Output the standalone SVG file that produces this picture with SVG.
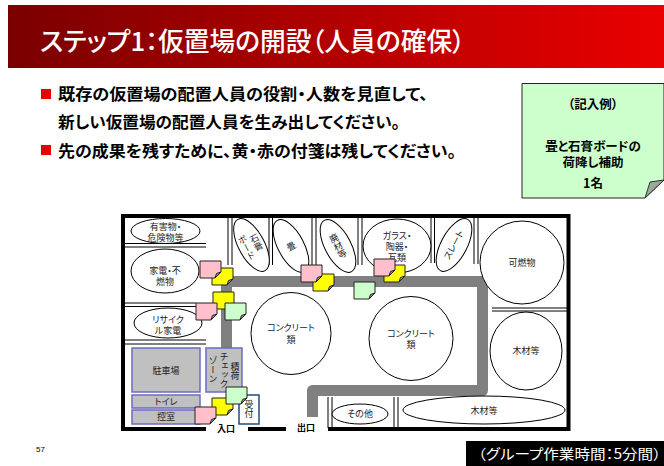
<svg xmlns="http://www.w3.org/2000/svg" width="664" height="466" viewBox="0 0 664 466">
<style>
text{font-family:"Noto Sans CJK JP","Liberation Sans",sans-serif;font-feature-settings:"palt";fill:#000}
.l{font-size:9px;text-anchor:middle;fill:#222}
.b{font-size:16px;font-weight:700}
.m{font-size:12.500px;font-weight:700;text-anchor:middle}
.e{fill:#fff;stroke:#000;stroke-width:1}
.wall{fill:none;stroke:#000;stroke-width:4}
.dbl{fill:none;stroke:#000;stroke-width:1}
.road{fill:none;stroke:#808080;stroke-width:11}
.blk{fill:#c0c0c0;stroke:#6c6cc0;stroke-width:1.500}
.v{writing-mode:vertical-rl;font-size:9px;text-anchor:middle;fill:#222}
.pink{fill:#ffc0cb}.yel{fill:#ffff00}.grn{fill:#ccffcc}
.sq{fill:#e60000}
</style>
<defs>
<linearGradient id="hd" x1="0" x2="1" y1="0" y2="0"><stop offset="0" stop-color="#7a0000"/><stop offset="1" stop-color="#ea0000"/></linearGradient>
<g id="note" stroke="#222" stroke-width="1"><path d="M0,0H21V11L15,17H0Z"/><path d="M15,17L16.500,12.500L21,11Z" fill="#999"/></g>
</defs>
<rect width="664" height="466" fill="#fff"/>
<g id="header">
<rect x="8" y="5" width="656" height="63" fill="url(#hd)"/>
<text x="40" y="51" font-size="26" font-weight="500" style="fill:#fff" textLength="425" lengthAdjust="spacingAndGlyphs">ステップ1：仮置場の開設（人員の確保）</text>
</g>
<g id="bullets">
<rect class="sq" x="41" y="89" width="10" height="10"/>
<text class="b" x="58" y="100" textLength="370" lengthAdjust="spacingAndGlyphs">既存の仮置場の配置人員の役割・人数を見直して、</text>
<text class="b" x="58" y="128" textLength="342" lengthAdjust="spacingAndGlyphs">新しい仮置場の配置人員を生み出してください。</text>
<rect class="sq" x="41" y="145" width="10" height="10"/>
<text class="b" x="58" y="157" textLength="398" lengthAdjust="spacingAndGlyphs">先の成果を残すために、黄・赤の付箋は残してください。</text>
</g>
<g id="example-note">
<path d="M522,83.500H664V180L645,198H522Z" fill="#ccffcc" stroke="#222" stroke-width="1"/>
<path d="M645,198L650,182L664,180Z" fill="#99aa99" stroke="#333" stroke-width="1"/>
<text class="m" x="593" y="109">（記入例）</text>
<text class="m" x="593" y="151">畳と石膏ボードの</text>
<text class="m" x="593" y="167">荷降し補助</text>
<text class="m" x="593" y="188">1名</text>
</g>
<g id="connectors">
<path class="road" d="M226.500,350V281.500H482.500V385"/>
<path class="road" stroke-linejoin="round" d="M482.500,385V390.500H312.500V417"/>
</g>
<g id="walls">
<path class="wall" d="M206,429H123V216H568.500V429H328M248,429H286"/>
<path class="dbl" d="M125,243.500H206M125,247H206M125,303H196M125,306.500H196M125,340H206M125,344H206M492,308H568M492,311H568M228,218V265M232,218V265M269,218V265M272.500,218V265M312,218V265M316,218V265M358,218V265M362,218V265M431,218V263M434.500,218V263M474,218V264M478,218V264M328,397V428M332,397V428M394,397V428M398,397V428"/>
</g>
<g id="n-hazard"><ellipse class="e" cx="165.500" cy="231" rx="34.500" ry="12.500"/><text class="l" x="165.500" y="230">有害物・</text><text class="l" x="165.500" y="241">危険物等</text></g>
<g id="n-appliance"><ellipse class="e" cx="165" cy="271" rx="34" ry="22"/><text class="l" x="165" y="274">家電・不</text><text class="l" x="165" y="285">燃物</text></g>
<g id="n-recycle"><ellipse class="e" cx="168" cy="323" rx="34" ry="15"/><text class="l" x="168" y="323">リサイク</text><text class="l" x="168" y="334">ル家電</text></g>
<g id="n-gypsum" transform="rotate(-28 251.500 245)"><ellipse class="e" cx="251.500" cy="245" rx="13" ry="29"/><text class="v" x="257" y="245">石膏</text><text class="v" x="246" y="245">ボード</text></g>
<g id="n-tatami" transform="rotate(-28 291 246)"><ellipse class="e" cx="291" cy="246" rx="13" ry="29"/><text class="v" x="291" y="246">畳</text></g>
<g id="n-waste" transform="rotate(-28 338 246)"><ellipse class="e" cx="338" cy="246" rx="13" ry="29"/><text class="v" x="338" y="246">廃材等</text></g>
<g id="n-glass"><ellipse class="e" cx="397" cy="246" rx="34" ry="27"/><text class="l" x="397" y="239">ガラス・</text><text class="l" x="397" y="250">陶器・</text><text class="l" x="397" y="261">瓦類</text></g>
<g id="n-slate" transform="rotate(28 454 245)"><ellipse class="e" cx="454" cy="245" rx="13" ry="29"/><text class="l" transform="rotate(-90 454 245)" x="454" y="248">スレート</text></g>
<g id="n-burn"><ellipse class="e" cx="522" cy="262.500" rx="42" ry="41.500"/><text class="l" x="522" y="266">可燃物</text></g>
<g id="n-wood1"><ellipse class="e" cx="526" cy="351" rx="36" ry="39"/><text class="l" x="526" y="354">木材等</text></g>
<g id="n-wood2"><ellipse class="e" cx="484" cy="410" rx="81" ry="14"/><text class="l" x="484" y="414">木材等</text></g>
<g id="n-other"><ellipse class="e" cx="360" cy="414" rx="28" ry="10"/><text class="l" x="360" y="417">その他</text></g>
<g id="n-conc1"><ellipse class="e" cx="291" cy="333.500" rx="40" ry="41"/><text class="l" x="291" y="331">コンクリート</text><text class="l" x="291" y="343">類</text></g>
<g id="n-conc2"><ellipse class="e" cx="411" cy="338.500" rx="42" ry="42"/><text class="l" x="411" y="337">コンクリート</text><text class="l" x="411" y="348">類</text></g>
<g id="n-parking"><rect class="blk" x="132" y="348" width="68" height="44"/><text class="l" x="166" y="374">駐車場</text></g>
<g id="n-check"><rect class="blk" x="206" y="348" width="36" height="44"/><text class="v" x="235" y="371">積荷</text><text class="v" x="224" y="370">チェック</text><text class="v" x="213" y="370">ゾーン</text></g>
<g id="n-toilet"><rect class="blk" x="132" y="395" width="68" height="13"/><text class="l" x="166" y="405">トイレ</text></g>
<g id="n-room"><rect class="blk" x="132" y="410" width="68" height="14"/><text class="l" x="166" y="420">控室</text></g>
<g id="n-reception"><rect x="239" y="395" width="20" height="29" fill="#fff" stroke="#1f4e79" stroke-width="1.500"/><text class="v" x="249" y="409.500">受付</text></g>
<g id="notes">
<use href="#note" class="yel" x="212" y="268"/>
<use href="#note" class="pink" x="200" y="261"/>
<use href="#note" class="yel" x="313" y="274"/>
<use href="#note" class="pink" x="301" y="265"/>
<use href="#note" class="yel" x="213" y="292"/>
<use href="#note" class="pink" x="196" y="303"/>
<use href="#note" class="grn" x="225" y="303"/>
<use href="#note" class="yel" x="384" y="265"/>
<use href="#note" class="pink" x="374" y="259"/>
<use href="#note" class="grn" x="354" y="282"/>
<use href="#note" class="yel" x="212" y="398"/>
<use href="#note" class="grn" x="226" y="387"/>
<use href="#note" class="pink" x="195" y="407"/>
</g>
<g id="gates">
<text x="226" y="432" font-size="9" font-weight="700" text-anchor="middle">入口</text>
<text x="306" y="431" font-size="9" font-weight="700" text-anchor="middle">出口</text>
</g>
<g id="footer">
<text x="36" y="452" font-size="8" style="font-family:'Liberation Sans',sans-serif">57</text>
<rect x="466" y="441" width="198" height="25" fill="#000"/>
<text x="478" y="459" font-size="14" style="fill:#fff" textLength="183" lengthAdjust="spacingAndGlyphs">（グループ作業時間：5分間）</text>
</g>
</svg>
